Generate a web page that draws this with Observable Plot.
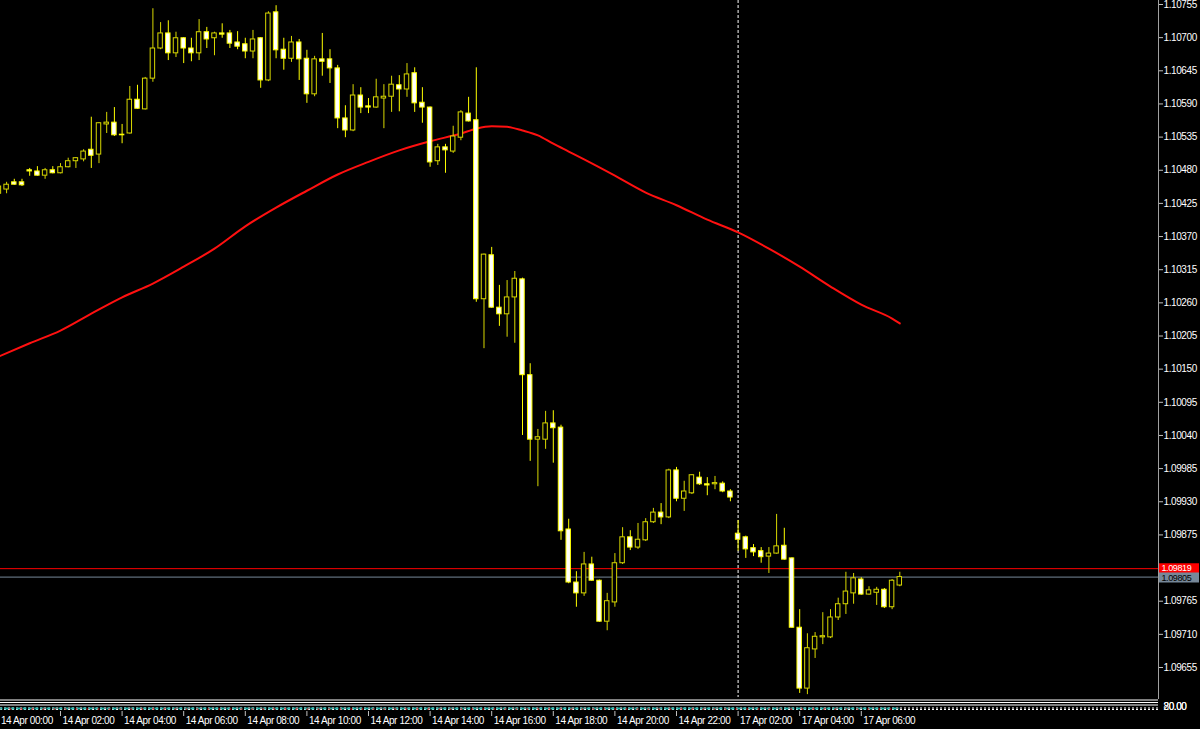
<!DOCTYPE html>
<html><head><meta charset="utf-8">
<script src="https://cdn.jsdelivr.net/npm/d3@7"></script>
<script src="https://cdn.jsdelivr.net/npm/@observablehq/plot@0.6"></script>
<style>
html,body{margin:0;padding:0;background:#000;}
#chart svg{display:block;}
</style></head><body><div id="chart"></div>
<script>
// EURUSD M15 candles, bar index 0..117
const open=[1.10441,1.10448,1.10460,1.10460,1.10480,1.10478,1.10471,1.10480,1.10475,1.10485,
1.10495,1.10498,1.10514,1.10506,1.10556,1.10559,1.10539,1.10541,1.10597,1.10581,
1.10632,1.10682,1.10707,1.10674,1.10699,1.10682,1.10674,1.10709,1.10699,1.10707,
1.10707,1.10692,1.10689,1.10677,1.10699,1.10629,1.10742,1.10680,1.10665,1.10692,
1.10665,1.10606,1.10664,1.10664,1.10649,1.10566,1.10546,1.10604,1.10586,1.10584,
1.10599,1.10602,1.10621,1.10614,1.10641,1.10592,1.10584,1.10495,1.10518,1.10511,
1.10534,1.10574,1.10563,1.10266,1.10339,1.10252,1.10241,1.10269,1.10299,1.10140,
1.10033,1.10033,1.10060,1.10053,1.09884,1.09796,1.09778,1.09826,1.09799,1.09731,
1.09763,1.09828,1.09871,1.09854,1.09866,1.09896,1.09912,1.09904,1.09982,1.09935,
1.09944,1.09970,1.09959,1.09959,1.09960,1.09947,1.09877,1.09871,1.09853,1.09848,
1.09839,1.09844,1.09857,1.09836,1.09721,1.09620,1.09685,1.09705,1.09705,1.09738,
1.09760,1.09778,1.09801,1.09776,1.09779,1.09784,1.09755,1.09791];
const high=[1.10456,1.10460,1.10465,1.10465,1.10483,1.10486,1.10483,1.10486,1.10491,1.10500,
1.10501,1.10514,1.10568,1.10559,1.10576,1.10584,1.10556,1.10619,1.10621,1.10634,
1.10748,1.10725,1.10728,1.10709,1.10700,1.10699,1.10730,1.10717,1.10709,1.10723,
1.10712,1.10710,1.10699,1.10712,1.10700,1.10743,1.10753,1.10699,1.10702,1.10697,
1.10679,1.10669,1.10707,1.10680,1.10654,1.10587,1.10622,1.10617,1.10599,1.10631,
1.10622,1.10636,1.10637,1.10657,1.10650,1.10617,1.10585,1.10523,1.10523,1.10553,
1.10579,1.10601,1.10650,1.10341,1.10352,1.10289,1.10297,1.10312,1.10301,1.10159,
1.10050,1.10080,1.10081,1.10057,1.09901,1.09814,1.09846,1.09838,1.09800,1.09778,
1.09844,1.09887,1.09882,1.09894,1.09902,1.09919,1.09927,1.09984,1.09987,1.09964,
1.09975,1.09979,1.09970,1.09972,1.09963,1.09950,1.09899,1.09873,1.09859,1.09854,
1.09854,1.09909,1.09886,1.09837,1.09751,1.09711,1.09713,1.09746,1.09751,1.09770,
1.09813,1.09811,1.09804,1.09789,1.09788,1.09786,1.09801,1.09813];
const low=[1.10438,1.10441,1.10455,1.10453,1.10470,1.10470,1.10465,1.10474,1.10474,1.10484,
1.10483,1.10494,1.10483,1.10491,1.10541,1.10536,1.10524,1.10540,1.10581,1.10580,
1.10626,1.10680,1.10662,1.10667,1.10657,1.10660,1.10662,1.10682,1.10670,1.10699,
1.10682,1.10680,1.10665,1.10665,1.10616,1.10627,1.10665,1.10646,1.10659,1.10629,
1.10591,1.10602,1.10636,1.10624,1.10549,1.10534,1.10544,1.10574,1.10574,1.10583,
1.10549,1.10576,1.10577,1.10601,1.10576,1.10558,1.10485,1.10488,1.10475,1.10508,
1.10529,1.10560,1.10261,1.10184,1.10251,1.10221,1.10203,1.10193,1.10040,1.09997,
1.09955,1.10017,1.09994,1.09866,1.09794,1.09755,1.09773,1.09798,1.09730,1.09716,
1.09755,1.09826,1.09849,1.09851,1.09864,1.09894,1.09892,1.09902,1.09930,1.09914,
1.09942,1.09957,1.09940,1.09950,1.09945,1.09930,1.09848,1.09836,1.09839,1.09828,
1.09811,1.09843,1.09833,1.09720,1.09612,1.09610,1.09670,1.09693,1.09703,1.09733,
1.09743,1.09760,1.09775,1.09775,1.09758,1.09753,1.09751,1.09789];
const close=[1.10453,1.10456,1.10456,1.10455,1.10478,1.10471,1.10480,1.10475,1.10485,1.10495,
1.10500,1.10511,1.10504,1.10558,1.10559,1.10538,1.10538,1.10597,1.10582,1.10632,
1.10682,1.10707,1.10674,1.10699,1.10682,1.10674,1.10709,1.10697,1.10707,1.10705,
1.10690,1.10685,1.10677,1.10697,1.10629,1.10740,1.10679,1.10665,1.10692,1.10664,
1.10606,1.10664,1.10660,1.10649,1.10566,1.10546,1.10604,1.10584,1.10584,1.10601,
1.10602,1.10622,1.10614,1.10639,1.10591,1.10584,1.10493,1.10518,1.10513,1.10536,
1.10576,1.10561,1.10266,1.10340,1.10252,1.10241,1.10269,1.10300,1.10140,1.10033,
1.10037,1.10060,1.10052,1.09881,1.09796,1.09778,1.09826,1.09799,1.09731,1.09765,
1.09828,1.09871,1.09854,1.09867,1.09896,1.09912,1.09904,1.09982,1.09935,1.09947,
1.09974,1.09959,1.09957,1.09961,1.09947,1.09937,1.09867,1.09851,1.09846,1.09838,
1.09844,1.09856,1.09834,1.09721,1.09620,1.09687,1.09706,1.09707,1.09738,1.09760,
1.09781,1.09803,1.09776,1.09783,1.09784,1.09755,1.09799,1.09805];

// moving average, read at selected bars
const maIndex=[0,4,8,12,16,20,24,28,32,36,40,44,48,52,56,60,62,64,66,68,70,72,74,76,80,84,88,92,96,100,104,108,112,116,117];
const maValue=[1.10171,1.10193,1.10214,1.10242,1.10269,1.10292,1.10320,1.10350,1.10387,1.10418,
1.10446,1.10473,1.10494,1.10513,1.10528,1.10541,1.10549,1.10553,1.10552,1.10546,
1.10538,1.10524,1.10511,1.10498,1.10471,1.10443,1.10422,1.10398,1.10377,1.10350,
1.10320,1.10287,1.10257,1.10234,1.10226];

const timeTickIndex=[0,8,16,24,32,40,48,56,64,72,80,88,96,104,112];
const timeTickLabels=["14 Apr 00:00","14 Apr 02:00","14 Apr 04:00","14 Apr 06:00","14 Apr 08:00",
"14 Apr 10:00","14 Apr 12:00","14 Apr 14:00","14 Apr 16:00","14 Apr 18:00","14 Apr 20:00",
"14 Apr 22:00","17 Apr 02:00","17 Apr 04:00","17 Apr 06:00"];
const priceTicks=[1.10755,1.10700,1.10645,1.10590,1.10535,1.10480,1.10425,1.10370,1.10315,1.10260,
1.10205,1.10150,1.10095,1.10040,1.09985,1.09930,1.09875,1.09765,1.09710,1.09655];
const askPrice=[1.09819];
const bidPrice=[1.09805];
const daySeparator=[96];
const oscLevels=[80,20];

const candles=open.map((o,i)=>({i,open:o,high:high[i],low:low[i],close:close[i]}));
const bulls=candles.filter(d=>d.close>d.open);
const bears=candles.filter(d=>d.close<=d.open);
const ma=maIndex.map((i,k)=>({i,v:maValue[k]}));

const xDomain=[0.2078,150.5974];
const yDomain=[1.0960524,1.1076164];
const yMin=yDomain[0];
const firstBar=d3.min(candles,d=>d.i), lastBar=d3.max(candles,d=>d.i);
const half=0.29;
const bullColor="#d8d800", bearColor="#ffff00";

const chart=Plot.plot({
  width:1200,height:729,
  marginLeft:0,marginRight:42,marginTop:0,marginBottom:32,
  style:"background:#000;color:#fff;font-family:'Liberation Sans',Arial,sans-serif;font-size:10px;letter-spacing:-0.4px;overflow:visible;",
  x:{domain:xDomain,label:null},
  y:{domain:yDomain,label:null},
  marks:[
    // sub window frame lines and oscillator levels
    Plot.ruleY([yMin],{stroke:"#fff",dy:2.5}),
    Plot.ruleY([yMin],{stroke:"#fff",dy:5}),
    Plot.ruleY([yMin],{stroke:"#fff",dy:7.5}),
    Plot.ruleY([yMin],{stroke:"#fff",strokeDasharray:"2,2",dy:10.5}),
    Plot.ruleY([yMin],{stroke:"#fff",strokeDasharray:"2,2",dy:12}),
    Plot.ruleY([yMin],{x1:firstBar,x2:lastBar,stroke:"#20b2aa",strokeWidth:2,strokeDasharray:"4,2",dy:11}),
    Plot.ruleY([yMin],{x1:firstBar,x2:lastBar,stroke:"#ff0000",strokeWidth:1,strokeDasharray:"2,9",dy:11.5}),
    Plot.text(oscLevels,{frameAnchor:"bottom-right",dy:12,dx:5,textAnchor:"start",text:d=>d.toFixed(2),fill:"#fff"}),
    // price lines
    Plot.ruleY(askPrice,{stroke:"#ff0000"}),
    Plot.ruleY(bidPrice,{stroke:"#778899"}),
    // day separator
    Plot.ruleX(daySeparator,{stroke:"#fff",strokeDasharray:"3,2"}),
    // moving average
    Plot.line(ma,{x:"i",y:"v",stroke:"#ff1010",strokeWidth:2,curve:"monotone-x"}),
    // candles
    Plot.ruleX(bulls,{x:"i",y1:"low",y2:"high",stroke:bullColor}),
    Plot.ruleX(bears,{x:"i",y1:"low",y2:"high",stroke:bearColor}),
    Plot.rect(bulls,{x1:d=>d.i-half,x2:d=>d.i+half,y1:"open",y2:"close",fill:"#000",stroke:bullColor}),
    Plot.rect(bears,{x1:d=>d.i-half,x2:d=>d.i+half,y1:"open",y2:"close",fill:"#fff",stroke:bearColor}),
    // right axis line
    Plot.ruleX([xDomain[1]],{stroke:"#a0a0a0",insetBottom:-2}),
    Plot.axisY(priceTicks,{anchor:"right",label:null,tickSize:4,tickPadding:1,tickFormat:d=>d.toFixed(5),stroke:"#c0c0c0",fill:"#fff"}),
    // price labels
    Plot.ruleY(askPrice,{stroke:"#ff0000",strokeWidth:10,dx:1159,dy:-0.5,insetRight:1118}),
    Plot.text(askPrice,{y:d=>d,frameAnchor:"right",dx:3,dy:-1,textAnchor:"start",fontSize:9,text:d=>d.toFixed(5),fill:"#fff"}),
    Plot.ruleY(bidPrice,{stroke:"#778899",strokeWidth:10,dx:1159,dy:0.5,insetRight:1118}),
    Plot.text(bidPrice,{y:d=>d,frameAnchor:"right",dx:3,dy:1,textAnchor:"start",fontSize:9,text:d=>d.toFixed(5),fill:"#000"}),
    // time axis
    Plot.axisX(timeTickIndex,{anchor:"bottom",label:null,tickSize:5,dy:14,tickFormat:()=>"",stroke:"#c0c0c0"}),
    Plot.axisX(timeTickIndex,{anchor:"bottom",label:null,tickSize:0,tickPadding:5,dy:14,dx:2,textAnchor:"start",
      tickFormat:d=>timeTickLabels[timeTickIndex.indexOf(d)],fill:"#fff"})
  ]
});
document.getElementById("chart").appendChild(chart);
</script></body></html>
